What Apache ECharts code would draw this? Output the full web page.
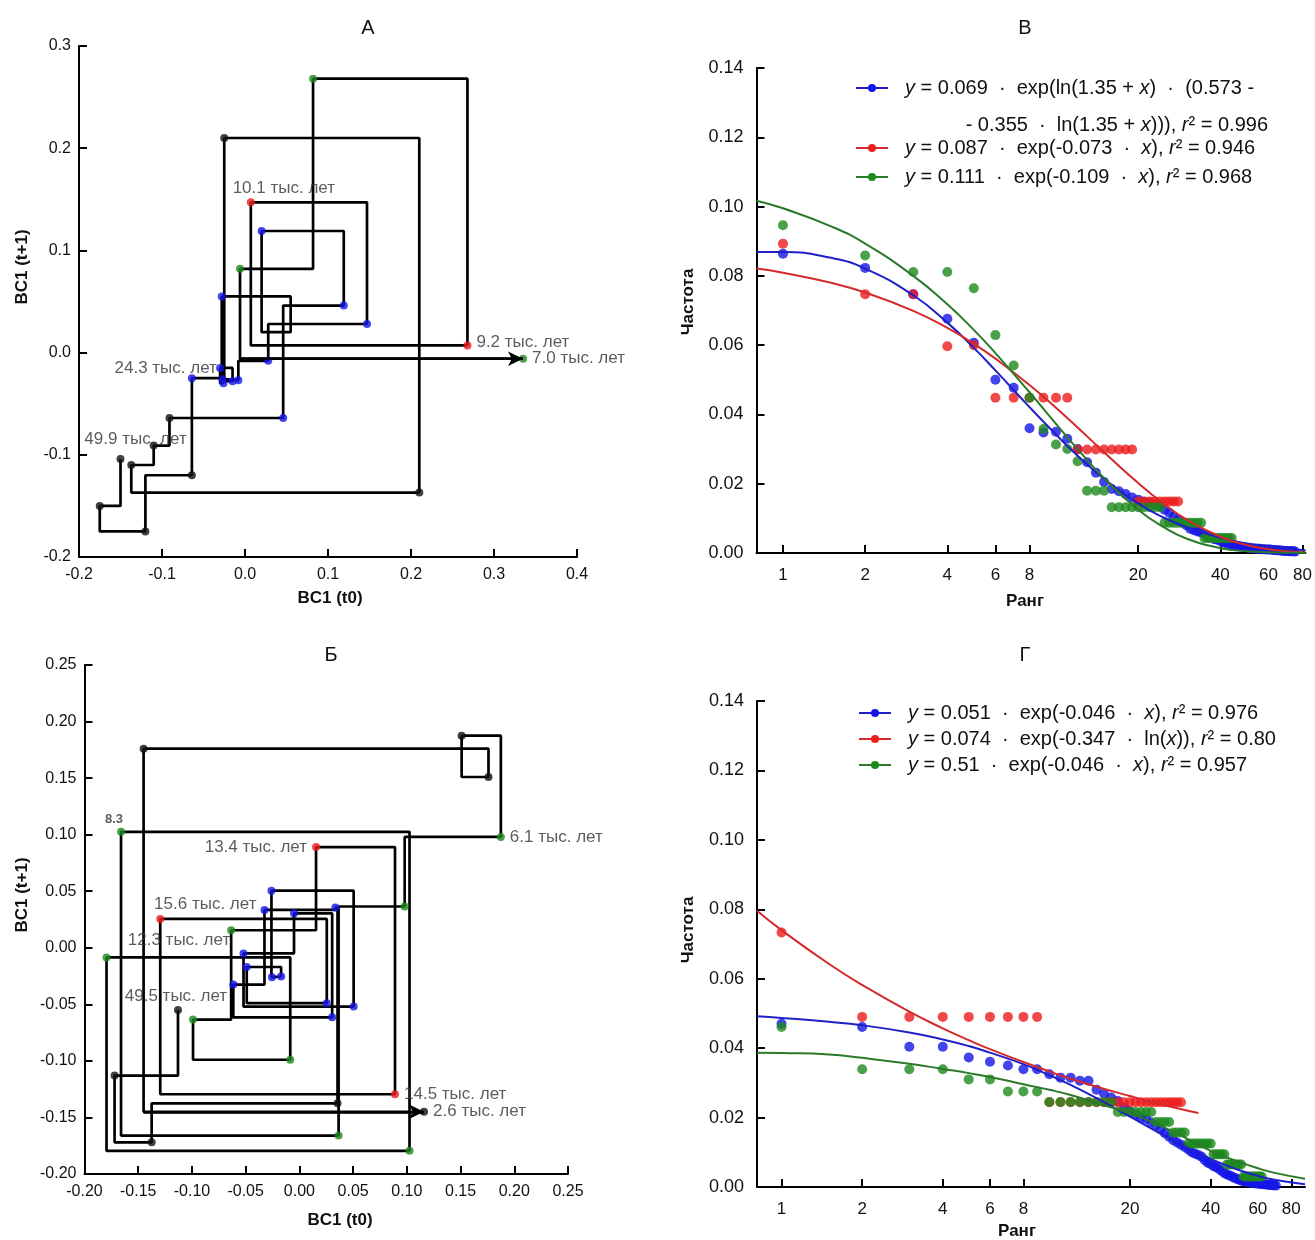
<!DOCTYPE html>
<html><head><meta charset="utf-8">
<script src="https://cdn.jsdelivr.net/npm/echarts@6/dist/echarts.min.js"></script>
<style>html,body{margin:0;padding:0;background:#fff}#c{width:1315px;height:1240px}</style>
</head><body><div id="c"></div>
<script>
// ===== Panel А: BC1 values in time order (49.9 -> 7.0 тыс. лет); point k = (BC1[k+1], BC1[k])
const bc1A = [-0.104, -0.150, -0.175, -0.120, -0.064, -0.091, -0.110, -0.137, 0.210, -0.025,
  -0.064, 0.046, 0.119, 0.020, 0.055, -0.028, -0.015, -0.030, -0.026, -0.027,
  -0.008, 0.028, 0.147, 0.007, 0.268, 0.082, -0.006, 0.335];
const stageA = ['k','k','k','k','k','k','k','k','k','b','b','b','b',null,'b','b','b','b','b','b','b','b','r','r','g','g','g'];
const labelsA = [[0,'49.9 тыс. лет'],[9,'24.3 тыс. лет'],[22,'10.1 тыс. лет'],[23,'9.2 тыс. лет'],[26,'7.0 тыс. лет']];

// ===== Panel Б
const bc1B = [-0.055, -0.113, -0.172, -0.1375, 0.0355, 0.0335, -0.0325, -0.0615, 0.0305, -0.005,
  -0.052, 0.0505, -0.026, -0.0255, -0.017, -0.049, 0.0255, -0.1295, 0.089, 0.0155,
  -0.0635, -0.099, -0.0085, -0.1795, 0.1025, -0.166, 0.0365, 0.098, 0.1875, 0.151,
  0.176, -0.145, 0.116];
const stageB = ['k','k','k','k','b','b','b','b','b','b','b','b','b','b','b','b','r','r','r','g','g','g','g','g','g','g','g','g','k','k','k','k'];
const labelsB = [[0,'49.5 тыс. лет'],[16,'15.6 тыс. лет'],[17,'14.5 тыс. лет'],[18,'13.4 тыс. лет'],[19,'12.3 тыс. лет'],[24,'8.3'],[27,'6.1 тыс. лет'],[31,'2.6 тыс. лет']];

// ===== Rank axes
const rankTicks = [1, 2, 4, 6, 8, 20, 40, 60, 80];

// ===== Panel В: frequencies by rank (rank = index + 1)
const freqV_blue = [0.0864,0.0823,0.0747,0.0676,0.0607,0.0500,0.0477,0.0360,0.0348,0.0350,
  0.0330,0.0300,0.0262,0.0232,0.0205,0.0185,0.0178,0.0170,0.0160,0.0154,
  0.0148,0.0145,0.0140,0.0135,0.0125,0.0116,0.0105,0.0096,0.0088,0.0080,
  0.0070,0.0066,0.0062,0.0059,0.0055,0.0050,0.0045,0.0040,0.0038,0.0035,
  0.0030,0.0028,0.0026,0.0024,0.0022,0.0020,0.0019,0.0018,0.0017,0.0016,
  0.0015,0.0014,0.0013,0.0013,0.0012,0.0012,0.0011,0.0011,0.0010,0.0010,
  0.0010,0.0009,0.0009,0.0008,0.0008,0.0007,0.0007,0.0006,0.0006,0.0006,
  0.0005,0.0005,0.0005,0.0005,0.0004];
const freqV_red = [0.0893,0.0747,0.0747,0.0597,0.0600,
  0.0448,0.0448,0.0448,0.0448,0.0448,0.0448,
  0.0299,0.0299,0.0299,0.0299,0.0299,0.0299,0.0299,0.0299,
  0.0149,0.0149,0.0149,0.0149,0.0149,0.0149,0.0149,0.0149,0.0149];
const freqV_green = [0.0946,0.0859,0.0811,0.0811,0.0764,0.0629,0.0541,0.0448,0.0358,0.0313,
  0.0300,0.0265,0.0180,0.0180,0.0180,
  0.0132,0.0132,0.0132,0.0132,0.0132,0.0132,0.0132,0.0132,0.0132,
  0.0087,0.0087,0.0087,0.0087,0.0087,0.0087,0.0087,0.0087,0.0087,0.0087,
  0.0043,0.0043,0.0043,0.0043,0.0043,0.0043,0.0043,0.0043,0.0043,0.0043];
const fitV_x = [0.8,1,1.5,2,3,4,5,6,8,10,12,15,20,25,30,40,50,60,70,82];
const fitV_blue = [0.0869,0.0869,0.0852,0.0821,0.0744,0.0665,0.0592,0.0527,0.0421,0.0342,0.0281,0.0214,0.0143,0.0101,0.0075,0.0044,0.0027,0.0018,0.0012,0.0008];
const fitV_red = [0.0821,0.0809,0.0780,0.0752,0.0699,0.0650,0.0604,0.0561,0.0485,0.0419,0.0362,0.0291,0.0202,0.0140,0.0097,0.0047,0.0023,0.0011,0.0005,0.0002];
const fitV_green = [0.1017,0.0995,0.0943,0.0893,0.0800,0.0718,0.0644,0.0577,0.0464,0.0373,0.0300,0.0216,0.0125,0.0073,0.0042,0.0014,0.0005,0.0002,0.0001,0.0000];

// ===== Panel Г
const freqG_blue = [0.0470,0.0461,0.0404,0.0404,0.0373,0.0361,0.0350,0.0339,0.0339,0.0325,
  0.0315,0.0315,0.0306,0.0306,0.0280,0.0268,0.0258,0.0248,0.0230,0.0218,
  0.0208,0.0200,0.0196,0.0186,0.0178,0.0166,0.0155,0.0145,0.0135,0.0128,
  0.0122,0.0115,0.0108,0.0100,0.0096,0.0092,0.0087,0.0078,0.0070,0.0066,
  0.0060,0.0057,0.0052,0.0046,0.0040,0.0036,0.0033,0.0030,0.0027,0.0024,
  0.0021,0.0019,0.0017,0.0015,0.0014,0.0013,0.0012,0.0011,0.0010,0.0010,
  0.0009,0.0009,0.0008,0.0007,0.0007,0.0006,0.0006,0.0005,0.0005,0.0004];
const freqG_red = [0.0733,0.0490,0.0490,0.0490,0.0490,0.0490,0.0490,0.0490,0.0490,
  0.0244,0.0244,0.0244,0.0244,0.0244,0.0244,0.0244,0.0244,0.0244,0.0244,0.0244,
  0.0244,0.0244,0.0244,0.0244,0.0244,0.0244,0.0244,0.0244,0.0244,0.0244,0.0244];
const freqG_green = [0.0461,0.0339,0.0339,0.0339,0.0310,0.0310,0.0275,0.0275,0.0275,
  0.0245,0.0245,0.0245,0.0245,0.0245,0.0245,0.0245,0.0245,
  0.0216,0.0216,0.0216,0.0216,0.0216,0.0216,0.0216,
  0.0187,0.0187,0.0187,0.0187,
  0.0157,0.0157,0.0157,0.0157,
  0.0125,0.0125,0.0125,0.0125,0.0125,0.0125,0.0125,0.0125,
  0.0094,0.0094,0.0094,0.0094,0.0094,
  0.0065,0.0065,0.0065,0.0065,0.0065,0.0065,0.0065,
  0.0030,0.0030,0.0030,0.0030,0.0030,0.0030,0.0030,0.0030,0.0030,0.0030];
const fitG_x = [0.81,1,1.5,2,3,4,5,6,8,10,12,15,20,25,30,40,50,60,70,90];
const fitG_blue = [0.0492,0.0487,0.0476,0.0466,0.0445,0.0425,0.0406,0.0387,0.0354,0.0322,0.0294,0.0256,0.0203,0.0161,0.0128,0.0081,0.0051,0.0032,0.0020,0.0008];
const fitG_green = [0.0387,0.0386,0.0382,0.0372,0.0355,0.0340,0.0328,0.0317,0.0296,0.0280,0.0265,0.0242,0.0212,0.0182,0.0154,0.0104,0.0075,0.0054,0.0040,0.0024];
const fitG_redX = [0.81,1,1.5,2,3,4,5,6,8,10,12,15,20,25,30,36];
const fitG_red = [0.0796,0.0740,0.0643,0.0582,0.0505,0.0457,0.0423,0.0397,0.0360,0.0333,0.0312,0.0289,0.0262,0.0242,0.0227,0.0213];

const legendV = ['{g| }{i|y} = 0.069  ·  exp(ln(1.35 + {i|x})  ·  (0.573 -',
                 '{g| }{i|y} = 0.087  ·  exp(-0.073  ·  {i|x}), {i|r}² = 0.946',
                 '{g| }{i|y} = 0.111  ·  exp(-0.109  ·  {i|x}), {i|r}² = 0.968'];
const legendV1b = '- 0.355  ·  ln(1.35 + {i|x}))), {i|r}² = 0.996';
const legendG = ['{g| }{i|y} = 0.051  ·  exp(-0.046  ·  {i|x}), {i|r}² = 0.976',
                 '{g| }{i|y} = 0.074  ·  exp(-0.347  ·  ln({i|x})), {i|r}² = 0.80',
                 '{g| }{i|y} = 0.51  ·  exp(-0.046  ·  {i|x}), {i|r}² = 0.957'];

// ===== styles
const FONT = 'Liberation Sans, Arial, Helvetica, sans-serif';
const LEGFS = 20;
const LABFS = 17;
const COL = {k:'#111111', b:'#1515e8', r:'#ee1c1c', g:'#1d8a1d'};
const LINECOL = {b:'#2020c8', r:'#d42a2a', g:'#2a7a2a'};
const labelPlaceA = {0:{position:'top',offset:[15,-2]}, 9:{position:'left',offset:[34,-10]}, 22:{position:'top',offset:[33,3]}, 23:{position:'right',offset:[0,-3]}, 26:{position:'right'}};
const labelPlaceB = {0:{position:'top',offset:[-2,4]}, 16:{position:'top',offset:[45,3]}, 17:{position:'right'}, 18:{position:'left'}, 19:{position:'left',offset:[8,10]}, 24:{position:'top',offset:[-7,3],fontWeight:'bold',fontSize:13}, 27:{position:'right'}, 31:{position:'right'}};

function phasePath(s){
  const pts = [];
  for (let k = 0; k < s.length - 1; k++){
    pts.push([s[k+1], s[k]]);
    if (k < s.length - 2) pts.push([s[k+1], s[k+1]]);
  }
  return pts;
}
function phasePoints(s, stage, labels, place){
  const lab = {}; labels.forEach(([i,t]) => lab[i] = t);
  const out = [];
  for (let k = 0; k < s.length - 1; k++){
    if (!stage[k]) continue;
    const item = {value:[s[k+1], s[k]], itemStyle:{color: COL[stage[k]]}};
    if (lab[k] !== undefined){
      const p = place[k] || {};
      item.label = Object.assign({show:true, formatter: lab[k], color:'#333', fontSize:LABFS, fontFamily:FONT, distance:5}, p);
    }
    out.push(item);
  }
  return out;
}
function arrowLine(s){
  const n = s.length - 1;
  return {silent:true, symbol:['none','arrow'], symbolSize:[11,15], label:{show:false},
    lineStyle:{color:'#000', width:2.6, type:'solid'},
    data:[[{coord:[s[n-1], s[n-1]]},{coord:[s[n], s[n-1]]}]], animation:false};
}
const fmt = d => v => (Math.abs(v) < 1e-9 ? 0 : v).toFixed(d);
function valAxis(gi, min, max, interval, dec, margin, fs){
  return {type:'value', gridIndex:gi, min, max, interval,
    axisLine:{show:true, onZero:false, lineStyle:{color:'#000', width:2}},
    axisTick:{show:true, inside:true, length:8, lineStyle:{color:'#000', width:2}},
    splitLine:{show:false},
    axisLabel:{formatter: fmt(dec), color:'#111', fontSize:fs || 16, fontFamily:FONT, margin}};
}
function logAxis(gi, min, max){
  return {type:'log', gridIndex:gi, min, max, logBase:10,
    axisLine:{show:true, onZero:false, lineStyle:{color:'#000', width:2}},
    axisTick:{show:true, inside:true, length:8, lineStyle:{color:'#000', width:2}, customValues: rankTicks},
    minorTick:{show:false}, splitLine:{show:false},
    axisLabel:{customValues: rankTicks, formatter: v => String(Math.round(v)), color:'#111', fontSize:17, fontFamily:FONT, margin:14}};
}
const rankPts = arr => arr.map((v,i) => [i+1, v]);
const zip = (xs, ys) => xs.map((x,i) => [x, ys[i]]);

function scat(name, xi, data, c){
  return {name, type:'scatter', xAxisIndex:xi, yAxisIndex:xi, data, symbolSize:10, itemStyle:{color:COL[c]}, z:3, animation:false};
}
function fit(name, xi, data, c){
  return {name, type:'line', xAxisIndex:xi, yAxisIndex:xi, data, smooth:true, showSymbol:false, symbol:'circle', symbolSize:8,
    itemStyle:{color:COL[c]}, lineStyle:{color:LINECOL[c], width:2}, z:4, animation:false};
}
const richLegend = {g:{width:12, fontSize:LEGFS}, i:{fontStyle:'italic', fontSize:LEGFS, fontFamily:FONT, color:'#111'}};
function legendDef(names, texts, left, top, gap){
  const map = {}; names.forEach((n,i) => map[n] = texts[i]);
  return {data:names, left, top, orient:'vertical', itemGap:gap, itemWidth:32, itemHeight:10, padding:0, selectedMode:false,
    formatter: n => map[n], textStyle:{fontSize:LEGFS, fontFamily:FONT, color:'#111', rich:richLegend}};
}
function gtext(text, x, y, opt){
  opt = opt || {};
  return {type:'text', x, y, rotation: opt.rot || 0, silent:true,
    style:{text, x:0, y:0, textAlign:'center', textVerticalAlign:'middle', align:'center', verticalAlign:'middle',
      font:(opt.weight||'normal') + ' ' + (opt.size||17) + 'px ' + FONT, fill:'#111', rich: opt.rich}};
}

const option = {
  backgroundColor:'#fff',
  animation:false,
  grid:[
    {left:79, top:46, width:498, height:511},
    {left:756.5, top:68, width:549, height:485},
    {left:84.5, top:665, width:483.5, height:509},
    {left:757, top:701, width:548, height:486}
  ],
  xAxis:[
    valAxis(0, -0.2, 0.4, 0.1, 1, 10),
    logAxis(1, 0.8, 82),
    valAxis(2, -0.2, 0.25, 0.05, 2, 10),
    logAxis(3, 0.81, 90)
  ],
  yAxis:[
    valAxis(0, -0.2, 0.3, 0.1, 1, 8),
    valAxis(1, 0, 0.14, 0.02, 2, 13, 18),
    valAxis(2, -0.2, 0.25, 0.05, 2, 8),
    valAxis(3, 0, 0.14, 0.02, 2, 13, 18)
  ],
  legend:[
    legendDef(['fitV1'], [legendV[0]], 855, 78, 0),
    legendDef(['fitV2'], [legendV[1]], 855, 138, 0),
    legendDef(['fitV3'], [legendV[2]], 855, 167, 0),
    legendDef(['fitG1','fitG2','fitG3'], legendG, 858, 703, 6)
  ],
  graphic:[
    gtext('А', 368, 28, {size:20}), gtext('В', 1025, 28, {size:20}),
    gtext('Б', 331, 655, {size:20}), gtext('Г', 1025, 655, {size:20}),
    gtext('BC1 (t0)', 330, 598, {weight:'bold'}), gtext('BC1 (t+1)', 22, 267, {weight:'bold', rot:Math.PI/2}),
    gtext('BC1 (t0)', 340, 1220, {weight:'bold'}), gtext('BC1 (t+1)', 22, 895, {weight:'bold', rot:Math.PI/2}),
    gtext('Ранг', 1025, 601, {weight:'bold'}), gtext('Частота', 688, 302, {weight:'bold', rot:Math.PI/2}),
    gtext('Ранг', 1017, 1231, {weight:'bold'}), gtext('Частота', 688, 930, {weight:'bold', rot:Math.PI/2}),
    {type:'text', x:1268, y:125, silent:true, style:{text:legendV1b, x:0, y:0, textAlign:'right', align:'right', textVerticalAlign:'middle', verticalAlign:'middle',
      font:LEGFS + 'px ' + FONT, fill:'#111', rich:{i:{fontStyle:'italic', fontSize:LEGFS, fontFamily:FONT, fill:'#111'}}}}
  ],
  series:[
    {name:'pathA', type:'line', xAxisIndex:0, yAxisIndex:0, data:phasePath(bc1A), showSymbol:false, symbol:'none',
      lineStyle:{color:'#000', width:2.7}, z:2, markLine:arrowLine(bc1A), animation:false},
    {name:'ptsA', type:'scatter', xAxisIndex:0, yAxisIndex:0, data:phasePoints(bc1A, stageA, labelsA, labelPlaceA), symbolSize:8, z:3, animation:false},
    {name:'pathB', type:'line', xAxisIndex:2, yAxisIndex:2, data:phasePath(bc1B), showSymbol:false, symbol:'none',
      lineStyle:{color:'#000', width:2.7}, z:2, markLine:arrowLine(bc1B), animation:false},
    {name:'ptsB', type:'scatter', xAxisIndex:2, yAxisIndex:2, data:phasePoints(bc1B, stageB, labelsB, labelPlaceB), symbolSize:8, z:3, animation:false},

    scat('ptV_b', 1, rankPts(freqV_blue), 'b'),
    scat('ptV_r', 1, rankPts(freqV_red), 'r'),
    scat('ptV_g', 1, rankPts(freqV_green), 'g'),
    fit('fitV1', 1, zip(fitV_x, fitV_blue), 'b'),
    fit('fitV2', 1, zip(fitV_x, fitV_red), 'r'),
    fit('fitV3', 1, zip(fitV_x, fitV_green.map(v => Math.max(v, 0.00005))), 'g'),

    scat('ptG_b', 3, rankPts(freqG_blue), 'b'),
    scat('ptG_r', 3, rankPts(freqG_red), 'r'),
    scat('ptG_g', 3, rankPts(freqG_green), 'g'),
    fit('fitG1', 3, zip(fitG_x, fitG_blue), 'b'),
    fit('fitG2', 3, zip(fitG_redX, fitG_red), 'r'),
    fit('fitG3', 3, zip(fitG_x, fitG_green), 'g')
  ]
};
const chart = echarts.init(document.getElementById('c'), null, {renderer:'canvas'});
chart.setOption(option);
</script>
</body></html>
